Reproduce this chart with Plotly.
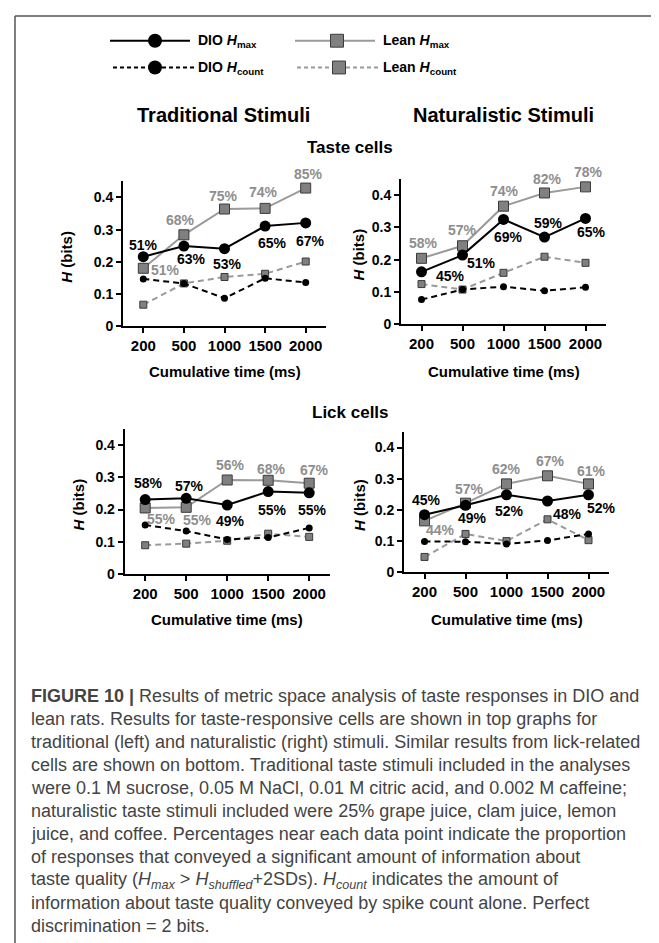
import plotly.graph_objects as go

W, H = 659, 943

# ---------------- data ----------------
categories = ["200", "500", "1000", "1500", "2000"]

taste_trad_dio_hmax = [0.216, 0.249, 0.241, 0.311, 0.321]
taste_trad_lean_hmax = [0.180, 0.284, 0.364, 0.366, 0.429]
taste_trad_dio_hcount = [0.147, 0.133, 0.087, 0.149, 0.136]
taste_trad_lean_hcount = [0.067, 0.133, 0.153, 0.163, 0.201]
taste_trad_dio_pct = ["51%", "63%", "53%", "65%", "67%"]
taste_trad_lean_pct = ["51%", "68%", "75%", "74%", "85%"]

taste_nat_dio_hmax = [0.162, 0.214, 0.325, 0.270, 0.328]
taste_nat_lean_hmax = [0.204, 0.243, 0.366, 0.407, 0.426]
taste_nat_dio_hcount = [0.076, 0.107, 0.116, 0.103, 0.114]
taste_nat_lean_hcount = [0.124, 0.107, 0.159, 0.209, 0.190]
taste_nat_dio_pct = ["45%", "51%", "69%", "59%", "65%"]
taste_nat_lean_pct = ["58%", "57%", "74%", "82%", "78%"]

lick_trad_dio_hmax = [0.231, 0.235, 0.214, 0.256, 0.252]
lick_trad_lean_hmax = [0.205, 0.207, 0.292, 0.291, 0.282]
lick_trad_dio_hcount = [0.152, 0.133, 0.107, 0.113, 0.143]
lick_trad_lean_hcount = [0.089, 0.094, 0.103, 0.125, 0.115]
lick_trad_dio_pct = ["58%", "57%", "49%", "55%", "55%"]
lick_trad_lean_pct = ["55%", "55%", "56%", "68%", "67%"]

lick_nat_dio_hmax = [0.184, 0.214, 0.248, 0.228, 0.248]
lick_nat_lean_hmax = [0.164, 0.221, 0.283, 0.309, 0.283]
lick_nat_dio_hcount = [0.098, 0.097, 0.090, 0.101, 0.122]
lick_nat_lean_hcount = [0.048, 0.122, 0.099, 0.169, 0.102]
lick_nat_dio_pct = ["45%", "49%", "52%", "48%", "52%"]
lick_nat_lean_pct = ["44%", "57%", "62%", "67%", "61%"]

yticks = [0, 0.1, 0.2, 0.3, 0.4]
ytick_labels = ["0", "0.1", "0.2", "0.3", "0.4"]

caption_lines = [
    "<b>FIGURE 10 |</b> Results of metric space analysis of taste responses in DIO and",
    "lean rats. Results for taste-responsive cells are shown in top graphs for",
    "traditional (left) and naturalistic (right) stimuli. Similar results from lick-related",
    "cells are shown on bottom. Traditional taste stimuli included in the analyses",
    "were 0.1 M sucrose, 0.05 M NaCl, 0.01 M citric acid, and 0.002 M caffeine;",
    "naturalistic taste stimuli included were 25% grape juice, clam juice, lemon",
    "juice, and coffee. Percentages near each data point indicate the proportion",
    "of responses that conveyed a significant amount of information about",
    "taste quality (<i>H<sub>max</sub></i> > <i>H<sub>shuffled</sub></i>+2SDs). <i>H<sub>count</sub></i> indicates the amount of",
    "information about taste quality conveyed by spike count alone. Perfect",
    "discrimination = 2 bits.",
]

# ---------------- layout helpers (positions / styles) ----------------
def PX(x):
    return x / W


def PY(y):
    return 1 - y / H


FONT = "Liberation Sans, Arial, sans-serif"
BLACK = "#000000"
GRAY_LINE = "#9a9a9a"
GRAY_FILL = "#808080"
GRAY_TEXT = "#8e8e8e"
EDGE = "#3a3a3a"

# panel pixel boxes: x0, x1, ytop(=0.45), ybottom(=0)
panels = [
    dict(box=(115, 318, 174.8, 321.0), ytitle_x=59, xtitle_y=367,
         dio_hmax=taste_trad_dio_hmax, lean_hmax=taste_trad_lean_hmax,
         dio_hcount=taste_trad_dio_hcount, lean_hcount=taste_trad_lean_hcount,
         dio_pct=taste_trad_dio_pct, lean_pct=taste_trad_lean_pct,
         dio_off=[(0, 12), (8, -13), (3, -15), (7, -17), (5, -18)],
         lean_off=[(22, -2), (-3, 15), (-1, 13), (-2, 16), (3, 14)]),
    dict(box=(393, 598, 172.6, 318.7), ytitle_x=351, xtitle_y=367,
         dio_hmax=taste_nat_dio_hmax, lean_hmax=taste_nat_lean_hmax,
         dio_hcount=taste_nat_dio_hcount, lean_hcount=taste_nat_lean_hcount,
         dio_pct=taste_nat_dio_pct, lean_pct=taste_nat_lean_pct,
         dio_off=[(29, -4), (19, -8), (5, -18), (4, 14), (6, -14)],
         lean_off=[(2, 15), (0, 16), (1, 15), (3, 14), (3, 15)]),
    dict(box=(116.7, 321.7, 424.8, 570.7), ytitle_x=71, xtitle_y=617,
         dio_hmax=lick_trad_dio_hmax, lean_hmax=lick_trad_lean_hmax,
         dio_hcount=lick_trad_dio_hcount, lean_hcount=lick_trad_lean_hcount,
         dio_pct=lick_trad_dio_pct, lean_pct=lick_trad_lean_pct,
         dio_off=[(3, 17), (3, 12), (3, -16), (4, -18), (3, -17)],
         lean_off=[(16, -11), (11, -13), (3, 15), (3, 11), (5, 13)]),
    dict(box=(396, 601, 427.6, 568.7), ytitle_x=352, xtitle_y=617,
         dio_hmax=lick_nat_dio_hmax, lean_hmax=lick_nat_lean_hmax,
         dio_hcount=lick_nat_dio_hcount, lean_hcount=lick_nat_lean_hcount,
         dio_pct=lick_nat_dio_pct, lean_pct=lick_nat_lean_pct,
         dio_off=[(2, 15), (7, -13), (3, -16), (20, -13), (13, -13)],
         lean_off=[(16, -9), (4, 14), (0, 15), (3, 15), (3, 13)]),
]

fig = go.Figure()
annotations = []
shapes = []
xpos = list(range(len(categories)))

for i, p in enumerate(panels, start=1):
    x0, x1, yt, yb = p["box"]
    xa = "x" if i == 1 else f"x{i}"
    ya = "y" if i == 1 else f"y{i}"
    layout_x = "xaxis" if i == 1 else f"xaxis{i}"
    layout_y = "yaxis" if i == 1 else f"yaxis{i}"

    fig.update_layout({
        layout_x: dict(domain=[PX(x0), PX(x1)], anchor=ya, range=[-0.5, len(categories) - 0.5],
                       tickvals=xpos, ticktext=categories, showline=True, linecolor=BLACK,
                       linewidth=2, ticks="outside", ticklen=5, tickwidth=2, tickcolor=BLACK,
                       showgrid=False, zeroline=False, fixedrange=True,
                       ticklabelstandoff=0,
                       tickfont=dict(family=FONT, size=15, color=BLACK, weight="bold")),
        layout_y: dict(domain=[PY(yb), PY(yt)], anchor=xa, range=[0, 0.45],
                       tickvals=yticks, ticktext=ytick_labels, showline=True, linecolor=BLACK,
                       linewidth=2, ticks="outside", ticklen=5, tickwidth=2, tickcolor=BLACK,
                       showgrid=False, zeroline=False, fixedrange=True,
                       tickfont=dict(family=FONT, size=14, color=BLACK, weight="bold")),
    })

    # Hcount (dashed) lines
    fig.add_trace(go.Scatter(x=xpos, y=p["lean_hcount"], xaxis=xa, yaxis=ya, mode="lines+markers",
                             line=dict(color=GRAY_LINE, width=2, dash="6px,4px"),
                             marker=dict(symbol="square", size=7, color=GRAY_FILL,
                                         line=dict(color=EDGE, width=1)),
                             showlegend=False, hoverinfo="skip"))
    fig.add_trace(go.Scatter(x=xpos, y=p["dio_hcount"], xaxis=xa, yaxis=ya, mode="lines+markers",
                             line=dict(color=BLACK, width=2, dash="6px,4px"),
                             marker=dict(symbol="circle", size=7, color=BLACK),
                             showlegend=False, hoverinfo="skip"))
    # Hmax lines
    fig.add_trace(go.Scatter(x=xpos, y=p["lean_hmax"], xaxis=xa, yaxis=ya, mode="lines+markers",
                             line=dict(color=GRAY_LINE, width=2),
                             marker=dict(symbol="square", size=10, color=GRAY_FILL,
                                         line=dict(color=EDGE, width=1)),
                             showlegend=False, hoverinfo="skip"))
    fig.add_trace(go.Scatter(x=xpos, y=p["dio_hmax"], xaxis=xa, yaxis=ya, mode="lines+markers",
                             line=dict(color=BLACK, width=2),
                             marker=dict(symbol="circle", size=11, color=BLACK),
                             showlegend=False, hoverinfo="skip"))

    # percentage labels
    for j, xv in enumerate(xpos):
        dx, dy = p["dio_off"][j]
        annotations.append(dict(x=xv, y=p["dio_hmax"][j], xref=xa, yref=ya, text=p["dio_pct"][j],
                                showarrow=False, xshift=dx, yshift=dy,
                                font=dict(family=FONT, size=14, color=BLACK, weight="bold")))
        dx, dy = p["lean_off"][j]
        annotations.append(dict(x=xv, y=p["lean_hmax"][j], xref=xa, yref=ya, text=p["lean_pct"][j],
                                showarrow=False, xshift=dx, yshift=dy,
                                font=dict(family=FONT, size=14, color=GRAY_TEXT, weight="bold")))

    # axis titles
    annotations.append(dict(x=PX(p["ytitle_x"]), y=PY((yt + yb) / 2 + 3), xref="paper", yref="paper",
                            text="<b><i>H</i> (bits)</b>", textangle=-90, showarrow=False,
                            xanchor="center", yanchor="middle",
                            font=dict(family=FONT, size=15, color=BLACK)))
    annotations.append(dict(x=PX((x0 + x1) / 2), y=PY(p["xtitle_y"]), xref="paper", yref="paper",
                            text="<b>Cumulative time (ms)</b>", showarrow=False,
                            xanchor="center", yanchor="middle",
                            font=dict(family=FONT, size=15, color=BLACK)))

# column / row titles
for txt, x, y, s in [("Traditional Stimuli", 215, 108, 20), ("Naturalistic Stimuli", 495.5, 108, 20),
                     ("Taste cells", 342, 141, 17), ("Lick cells", 342, 408, 17)]:
    annotations.append(dict(x=PX(x), y=PY(y), xref="paper", yref="paper", text=f"<b>{txt}</b>",
                            showarrow=False, xanchor="center", yanchor="middle",
                            font=dict(family=FONT, size=s, color=BLACK)))

# ---------------- legend (drawn) ----------------
def circle(cx, cy, d, color):
    return dict(type="circle", xref="paper", yref="paper", x0=PX(cx - d / 2), x1=PX(cx + d / 2),
                y0=PY(cy + d / 2), y1=PY(cy - d / 2), fillcolor=color, line=dict(color=color, width=0))


def square(cx, cy, d):
    return dict(type="rect", xref="paper", yref="paper", x0=PX(cx - d / 2), x1=PX(cx + d / 2),
                y0=PY(cy + d / 2), y1=PY(cy - d / 2), fillcolor=GRAY_FILL, line=dict(color=EDGE, width=1))


def hline(xa_, xb_, y, color, dash="solid", width=2):
    return dict(type="line", xref="paper", yref="paper", x0=PX(xa_), x1=PX(xb_), y0=PY(y), y1=PY(y),
                line=dict(color=color, width=width, dash=dash))


shapes += [
    hline(102, 182, 33, BLACK), circle(147, 33, 14, BLACK),
    hline(287, 367, 33, GRAY_LINE), square(329, 33, 13),
    hline(105, 187, 60, BLACK, "4px,3px"), circle(147, 60, 14, BLACK),
    hline(289, 371, 60, GRAY_LINE, "4px,3px"), square(331, 60, 13),
]
for txt, x, y in [("DIO <i>H</i><sub>max</sub>", 188, 33), ("Lean <i>H</i><sub>max</sub>", 373, 33),
                  ("DIO <i>H</i><sub>count</sub>", 188, 61), ("Lean <i>H</i><sub>count</sub>", 373, 61)]:
    annotations.append(dict(x=PX(x), y=PY(y), xref="paper", yref="paper", text=f"<b>{txt}</b>",
                            showarrow=False, xanchor="left", yanchor="middle",
                            font=dict(family=FONT, size=14, color=BLACK)))

# frame lines
shapes += [
    dict(type="line", xref="paper", yref="paper", x0=PX(7), x1=1, y0=PY(8), y1=PY(8),
         line=dict(color="#555555", width=1.5)),
    dict(type="line", xref="paper", yref="paper", x0=PX(7), x1=PX(7), y0=PY(8), y1=0,
         line=dict(color="#555555", width=1.5)),
]

# ---------------- caption ----------------
cap_y0, cap_dy = 694, 23.2
for k, line in enumerate(caption_lines):
    annotations.append(dict(x=PX(21), y=PY(cap_y0 + k * cap_dy), xref="paper", yref="paper",
                            text=line, showarrow=False, xanchor="left", yanchor="middle",
                            font=dict(family="Liberation Sans, Arial, sans-serif", size=18,
                                      color="#444444")))

fig.update_layout(width=W, height=H, margin=dict(l=0, r=0, t=0, b=0), autosize=False,
                  paper_bgcolor="white", plot_bgcolor="white",
                  annotations=annotations, shapes=shapes, showlegend=False)

fig.write_html("out.html")
